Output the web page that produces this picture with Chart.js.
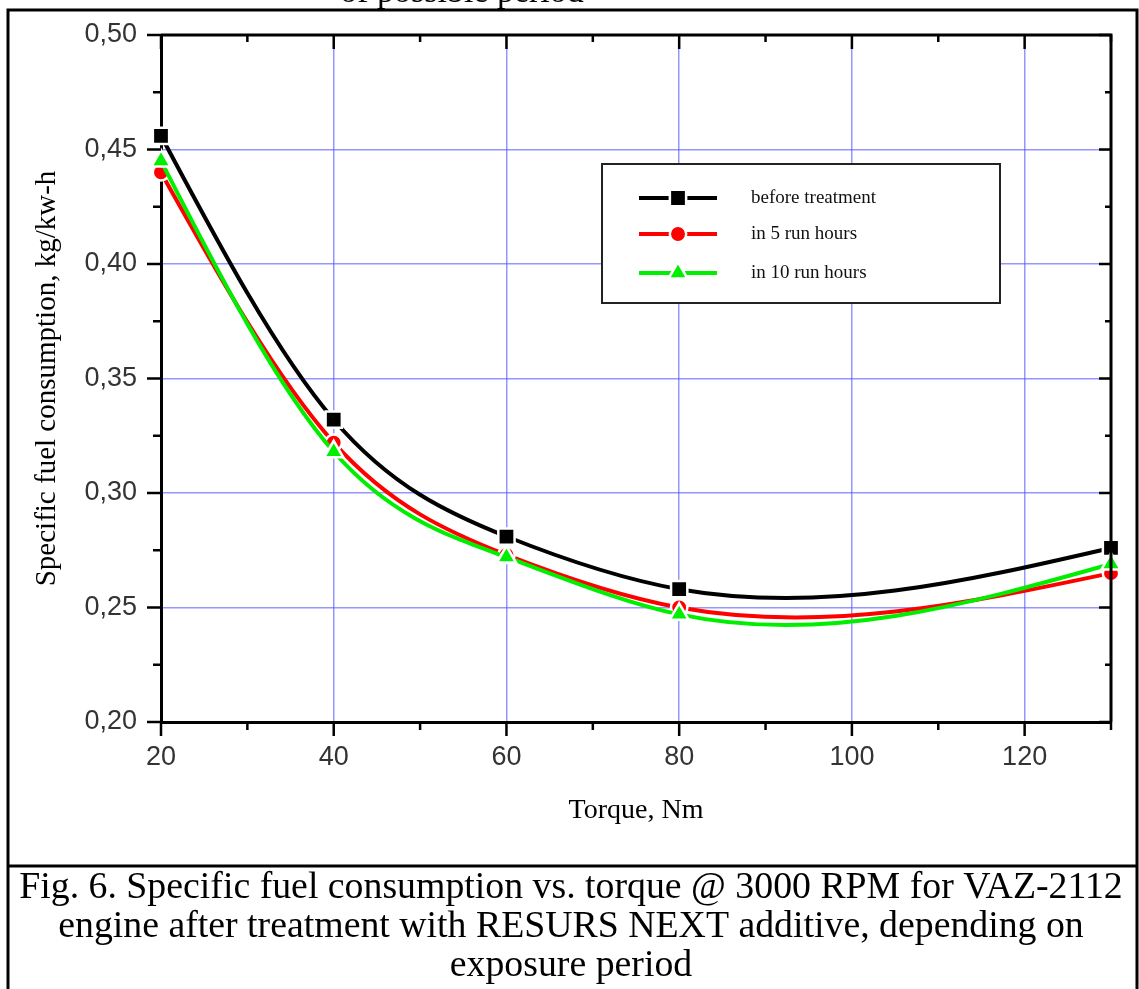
<!DOCTYPE html>
<html><head><meta charset="utf-8">
<script src="https://cdn.jsdelivr.net/npm/chart.js@4"></script>
<style>html,body{margin:0;padding:0;background:#fff;overflow:hidden}</style>
</head><body>
<canvas id="c" width="1139" height="989"></canvas>
<script>
// ---- data ----
const torque = [20, 40, 60, 80, 130];
const beforeTreatment = [0.456, 0.332, 0.281, 0.258, 0.276];
const in5RunHours = [0.440, 0.322, 0.273, 0.250, 0.265];
const in10RunHours = [0.445, 0.318, 0.272, 0.247, 0.269];
const seriesLabels = ['before treatment', 'in 5 run hours', 'in 10 run hours'];
const xTickValues = [20, 40, 60, 80, 100, 120];
const xMinorTicks = [30, 50, 70, 90, 110, 130];
const yTickValues = [0.20, 0.25, 0.30, 0.35, 0.40, 0.45, 0.50];
const yTickLabels = ['0,20', '0,25', '0,30', '0,35', '0,40', '0,45', '0,50'];
const yMinorTicks = [0.225, 0.275, 0.325, 0.375, 0.425, 0.475];
const xTitle = 'Torque, Nm';
const yTitle = 'Specific fuel consumption, kg/kw-h';
const topCutText = 'of possible period';
const captionLines = [
  'Fig. 6. Specific fuel consumption vs. torque @ 3000 RPM for VAZ-2112',
  'engine after treatment with RESURS NEXT additive, depending on',
  'exposure period'
];

const W = 1139, H = 989;
const PLOT_LEFT = 161, PLOT_RIGHT = 1111, PLOT_TOP = 35, PLOT_BOTTOM = 722;
const GRID = 'rgba(80,80,255,0.6)';
const SERIF = '"Liberation Serif", "Times New Roman", serif';
const SANS = '"Liberation Sans", Arial, sans-serif';

function pts(ys) { return torque.map((x, i) => ({x, y: ys[i]})); }

const styles = [
  {color: '#000000', pointStyle: 'rect', radius: 11.5, order: 2},
  {color: '#ff0000', pointStyle: 'circle', radius: 8.2, order: 1},
  {color: '#00ee00', pointStyle: 'triangle', radius: 11, order: 0}
];
const seriesData = [beforeTreatment, in5RunHours, in10RunHours];
const HALO = 2.5;

const datasets = seriesData.map((d, i) => ({
  label: seriesLabels[i],
  data: pts(d),
  order: styles[i].order,
  borderColor: styles[i].color,
  backgroundColor: styles[i].color,
  pointBackgroundColor: styles[i].color,
  pointBorderColor: '#ffffff',
  pointBorderWidth: HALO,
  pointStyle: styles[i].pointStyle,
  pointRadius: styles[i].radius,
  borderWidth: 4,
  tension: 0.4,
  fill: false,
  clip: false
}));

// Natural cubic spline (as Origin draws) expressed as Bezier control points
// on the line element that Chart.js builds from the data.
const splinePlugin = {
  id: 'naturalSpline',
  beforeDatasetsDraw(chart) {
    chart.getSortedVisibleDatasetMetas().forEach(meta => {
      const line = meta.dataset, p = meta.data, n = p.length;
      if (!line || n < 3) return;
      const x = p.map(e => e.x), y = p.map(e => e.y);
      const h = [], d = [];
      for (let i = 0; i < n - 1; i++) { h.push(x[i + 1] - x[i]); d.push((y[i + 1] - y[i]) / h[i]); }
      const M = new Array(n).fill(0);
      const a = [], b = [], c = [], r = [];
      for (let i = 1; i < n - 1; i++) {
        a.push(h[i - 1]); b.push(2 * (h[i - 1] + h[i])); c.push(h[i]); r.push(6 * (d[i] - d[i - 1]));
      }
      const m = b.length;
      for (let i = 1; i < m; i++) {
        const w = a[i] / b[i - 1];
        b[i] -= w * c[i - 1]; r[i] -= w * r[i - 1];
      }
      const sol = new Array(m);
      sol[m - 1] = r[m - 1] / b[m - 1];
      for (let i = m - 2; i >= 0; i--) sol[i] = (r[i] - c[i] * sol[i + 1]) / b[i];
      for (let i = 0; i < m; i++) M[i + 1] = sol[i];
      for (let i = 0; i < n - 1; i++) {
        const s0 = d[i] - h[i] * (2 * M[i] + M[i + 1]) / 6;
        const s1 = d[i] + h[i] * (M[i] + 2 * M[i + 1]) / 6;
        p[i].cp2x = x[i] + h[i] / 3; p[i].cp2y = y[i] + s0 * h[i] / 3;
        p[i + 1].cp1x = x[i + 1] - h[i] / 3; p[i + 1].cp1y = y[i + 1] - s1 * h[i] / 3;
      }
      p[0].cp1x = x[0]; p[0].cp1y = y[0];
      p[n - 1].cp2x = x[n - 1]; p[n - 1].cp2y = y[n - 1];
      line._pointsUpdated = true;
      delete line._path;
    });
  }
};

const framePlugin = {
  id: 'frame',
  beforeDraw(chart) {
    const ctx = chart.ctx;
    ctx.save();
    ctx.fillStyle = '#fff';
    ctx.fillRect(0, 0, W, H);
    ctx.restore();
  },
  afterDraw(chart) {
    const ctx = chart.ctx;
    const xs = chart.scales.x, ys = chart.scales.y;
    const a = chart.chartArea;
    ctx.save();
    ctx.strokeStyle = '#000';
    ctx.lineWidth = 3;
    ctx.beginPath();
    ctx.moveTo(a.left, a.top); ctx.lineTo(a.right, a.top); ctx.lineTo(a.right, a.bottom);
    ctx.stroke();
    ctx.lineWidth = 2.5;
    ctx.beginPath();
    xTickValues.forEach(v => {
      const p = xs.getPixelForValue(v);
      ctx.moveTo(p, a.bottom); ctx.lineTo(p, a.bottom + 14);
      ctx.moveTo(p, a.top); ctx.lineTo(p, a.top + 14);
    });
    xMinorTicks.forEach(v => {
      const p = xs.getPixelForValue(v);
      ctx.moveTo(p, a.bottom); ctx.lineTo(p, a.bottom + 8);
      ctx.moveTo(p, a.top); ctx.lineTo(p, a.top + 7);
    });
    yTickValues.forEach(v => {
      const p = ys.getPixelForValue(v);
      ctx.moveTo(a.left - 14, p); ctx.lineTo(a.left, p);
      ctx.moveTo(a.right - 12, p); ctx.lineTo(a.right, p);
    });
    yMinorTicks.forEach(v => {
      const p = ys.getPixelForValue(v);
      ctx.moveTo(a.left - 8, p); ctx.lineTo(a.left, p);
      ctx.moveTo(a.right - 6, p); ctx.lineTo(a.right, p);
    });
    ctx.stroke();

    // legend
    const lx = 602, ly = 164, lw = 398, lh = 139;
    ctx.fillStyle = '#fff';
    ctx.fillRect(lx, ly, lw, lh);
    ctx.strokeStyle = '#222';
    ctx.lineWidth = 2;
    ctx.strokeRect(lx, ly, lw, lh);
    const rows = [198, 234, 273];
    chart.data.datasets.forEach((ds, i) => {
      const y = rows[i];
      ctx.strokeStyle = ds.borderColor;
      ctx.lineWidth = 4;
      ctx.beginPath(); ctx.moveTo(639, y); ctx.lineTo(717, y); ctx.stroke();
      ctx.fillStyle = ds.pointBackgroundColor;
      ctx.strokeStyle = ds.pointBorderColor;
      ctx.lineWidth = ds.pointBorderWidth;
      Chart.helpers.drawPoint(ctx, {pointStyle: ds.pointStyle, radius: ds.pointRadius, borderWidth: ds.pointBorderWidth, rotation: 0}, 678, y);
      ctx.fillStyle = '#111';
      ctx.font = '19px ' + SERIF;
      ctx.textBaseline = 'middle';
      ctx.textAlign = 'left';
      ctx.fillText(ds.label, 751, y);
    });

    // outer box & caption
    ctx.strokeStyle = '#000';
    ctx.lineWidth = 3;
    ctx.beginPath();
    ctx.moveTo(8, H + 5); ctx.lineTo(8, 10); ctx.lineTo(1137, 10); ctx.lineTo(1137, H + 5);
    ctx.moveTo(8, 866); ctx.lineTo(1137, 866);
    ctx.stroke();
    ctx.fillStyle = '#000';
    ctx.textAlign = 'center';
    ctx.textBaseline = 'alphabetic';
    ctx.font = '34px ' + SERIF;
    ctx.fillText(topCutText, 462, 2);
    ctx.font = '37.8px ' + SERIF;
    const bl = [898, 937, 976];
    captionLines.forEach((t, i) => ctx.fillText(t, 571, bl[i]));
    ctx.restore();
  }
};

new Chart(document.getElementById('c'), {
  type: 'line',
  data: {datasets},
  options: {
    responsive: false,
    animation: false,
    devicePixelRatio: 1,
    layout: {padding: {left: 0, top: PLOT_TOP, right: W - PLOT_RIGHT, bottom: 0}},
    plugins: {legend: {display: false}, tooltip: {enabled: false}},
    scales: {
      x: {
        type: 'linear', min: 20, max: 130,
        afterBuildTicks: s => { s.ticks = xTickValues.map(v => ({value: v})); },
        afterFit: s => { s.height = H - PLOT_BOTTOM; },
        ticks: {font: {family: SANS, size: 27}, color: '#333', padding: 5, maxRotation: 0, autoSkip: false,
                callback: v => String(v)},
        grid: {color: GRID, lineWidth: 1.5, tickColor: 'rgba(0,0,0,0)', tickLength: 14},
        border: {display: true, color: '#000', width: 3},
        title: {display: true, text: xTitle, font: {family: SERIF, size: 28}, color: '#000',
                padding: {top: 0, bottom: 162}}
      },
      y: {
        type: 'linear', min: 0.2, max: 0.5,
        afterBuildTicks: s => { s.ticks = yTickValues.map(v => ({value: v})); },
        afterFit: s => { s.width = PLOT_LEFT; },
        ticks: {font: {family: SANS, size: 27}, color: '#333', padding: 10, autoSkip: false,
                callback: (v, i) => yTickLabels[i]},
        grid: {color: GRID, lineWidth: 1.5, tickColor: 'rgba(0,0,0,0)', tickLength: 14},
        border: {display: true, color: '#000', width: 3},
        title: {display: true, text: yTitle, font: {family: SERIF, size: 29}, color: '#000',
                padding: {top: 30, bottom: 0}}
      }
    }
  },
  plugins: [splinePlugin, framePlugin]
});
</script>
</body></html>
